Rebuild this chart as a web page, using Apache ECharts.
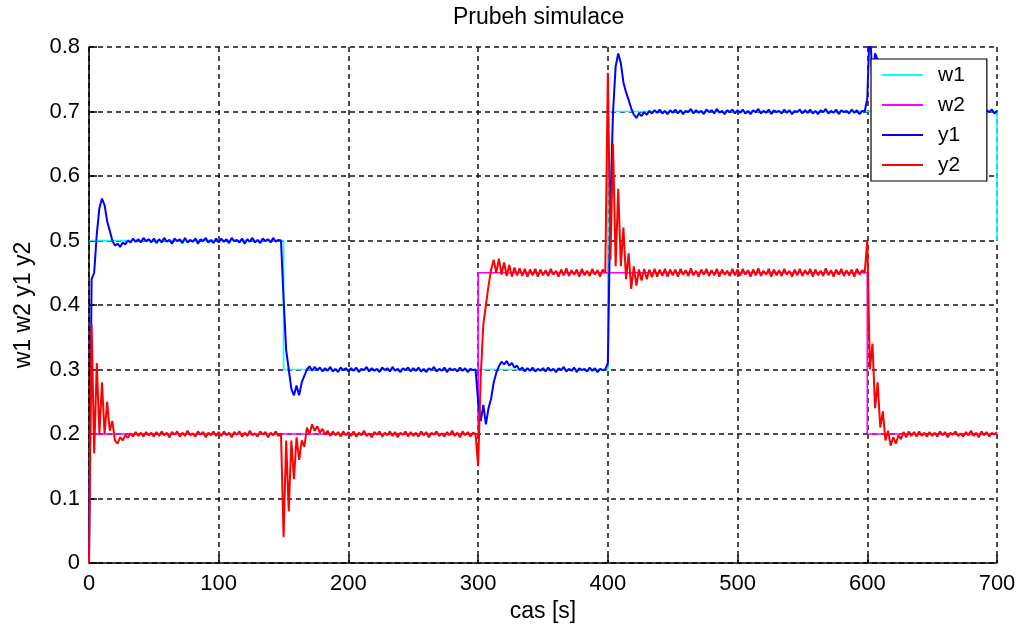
<!DOCTYPE html>
<html>
<head>
<meta charset="utf-8">
<script src="https://cdn.jsdelivr.net/npm/echarts@6/dist/echarts.min.js"></script>
<style>
html,body{margin:0;padding:0;background:#fff;}
#chart{width:1021px;height:630px;}
</style>
</head>
<body>
<div id="chart"></div>
<script>
// ---- data ----
const titleText = 'Prubeh simulace';
const xName = 'cas [s]';
const yName = 'w1 w2 y1 y2';
const seriesNames = ['w1', 'w2', 'y1', 'y2'];

// set-points: [time, level] break points (step changes)
const w1Steps = [[0, 0.5], [150, 0.3], [400, 0.7], [700, 0.5]];
const w2Steps = [[0, 0.2], [300, 0.45], [600, 0.2], [700, 0.2]];

// outputs sampled every 2 s from t = 0 to t = 700 (one row = 50 s)
const sampleStep = 2;
const y1Values = [
  0.00,0.44,0.45,0.51,0.55,0.565,0.555,0.53,0.515,0.50,0.492,0.495,0.49,0.497,0.494,0.50,0.497,0.503,0.498,0.502,0.497,0.504,0.499,0.502,0.497,
  0.503,0.496,0.502,0.497,0.504,0.498,0.501,0.495,0.503,0.499,0.502,0.496,0.504,0.497,0.501,0.498,0.503,0.495,0.502,0.499,0.504,0.497,0.501,0.496,0.503,
  0.497,0.503,0.498,0.502,0.496,0.504,0.499,0.501,0.497,0.503,0.495,0.502,0.498,0.504,0.497,0.501,0.496,0.503,0.499,0.502,0.497,0.504,0.498,0.501,0.500,
  0.41,0.33,0.30,0.27,0.26,0.275,0.26,0.28,0.29,0.30,0.305,0.298,0.304,0.299,0.303,0.297,0.302,0.298,0.304,0.297,0.301,0.296,0.303,0.299,0.302,
  0.297,0.302,0.298,0.303,0.296,0.301,0.299,0.304,0.297,0.302,0.298,0.301,0.296,0.303,0.299,0.302,0.297,0.304,0.298,0.301,0.296,0.302,0.299,0.303,0.297,
  0.302,0.298,0.303,0.297,0.301,0.296,0.302,0.299,0.304,0.297,0.301,0.298,0.303,0.296,0.302,0.299,0.301,0.297,0.303,0.298,0.302,0.296,0.301,0.299,0.300,
  0.25,0.22,0.245,0.215,0.24,0.255,0.28,0.295,0.305,0.312,0.308,0.313,0.306,0.31,0.303,0.306,0.299,0.303,0.297,0.302,0.298,0.303,0.297,0.301,0.298,
  0.302,0.297,0.303,0.298,0.301,0.296,0.302,0.299,0.304,0.297,0.301,0.298,0.303,0.296,0.302,0.299,0.301,0.297,0.303,0.298,0.302,0.296,0.301,0.299,0.300,
  0.31,0.56,0.70,0.77,0.79,0.775,0.745,0.73,0.718,0.705,0.695,0.69,0.697,0.693,0.699,0.695,0.701,0.697,0.702,0.698,0.703,0.697,0.701,0.696,0.702,
  0.698,0.703,0.697,0.702,0.696,0.701,0.699,0.704,0.697,0.702,0.698,0.701,0.696,0.703,0.699,0.702,0.697,0.704,0.698,0.701,0.696,0.702,0.699,0.703,0.697,
  0.702,0.698,0.703,0.697,0.701,0.696,0.702,0.699,0.704,0.697,0.701,0.698,0.703,0.696,0.702,0.699,0.701,0.697,0.703,0.698,0.702,0.696,0.701,0.699,0.703,
  0.697,0.702,0.698,0.703,0.697,0.701,0.696,0.702,0.699,0.704,0.697,0.701,0.698,0.703,0.696,0.702,0.699,0.701,0.697,0.703,0.698,0.702,0.696,0.701,0.700,
  0.72,0.84,0.74,0.79,0.78,0.76,0.75,0.74,0.73,0.72,0.71,0.705,0.70,0.697,0.702,0.698,0.703,0.697,0.701,0.696,0.702,0.699,0.704,0.697,0.701,
  0.698,0.703,0.697,0.702,0.696,0.701,0.699,0.704,0.697,0.702,0.698,0.701,0.696,0.703,0.699,0.702,0.697,0.704,0.698,0.701,0.696,0.702,0.699,0.703,0.697,
  0.701
];
const y2Values = [
  0.00,0.37,0.17,0.31,0.20,0.28,0.20,0.25,0.205,0.22,0.19,0.185,0.195,0.19,0.198,0.194,0.201,0.196,0.203,0.197,0.202,0.196,0.203,0.198,0.202,
  0.196,0.203,0.197,0.204,0.198,0.202,0.195,0.203,0.199,0.204,0.196,0.202,0.197,0.205,0.198,0.201,0.196,0.204,0.199,0.203,0.195,0.202,0.198,0.204,0.197,
  0.203,0.197,0.204,0.198,0.202,0.195,0.203,0.199,0.204,0.196,0.202,0.197,0.205,0.198,0.201,0.196,0.204,0.199,0.203,0.195,0.202,0.198,0.204,0.197,0.201,
  0.04,0.19,0.08,0.19,0.13,0.195,0.16,0.19,0.18,0.21,0.20,0.215,0.205,0.212,0.202,0.208,0.199,0.205,0.197,0.204,0.198,0.203,0.196,0.204,0.198,
  0.203,0.197,0.204,0.196,0.202,0.198,0.205,0.197,0.201,0.195,0.203,0.199,0.204,0.196,0.202,0.198,0.204,0.197,0.203,0.195,0.202,0.199,0.204,0.196,0.203,
  0.197,0.202,0.196,0.204,0.198,0.203,0.195,0.202,0.199,0.204,0.197,0.201,0.196,0.203,0.198,0.205,0.197,0.202,0.195,0.204,0.198,0.203,0.196,0.202,0.200,
  0.15,0.29,0.37,0.40,0.43,0.455,0.47,0.45,0.472,0.447,0.466,0.445,0.462,0.444,0.458,0.446,0.457,0.445,0.456,0.444,0.455,0.446,0.456,0.444,0.455,
  0.446,0.454,0.445,0.456,0.447,0.453,0.444,0.455,0.446,0.457,0.445,0.454,0.447,0.455,0.444,0.456,0.446,0.453,0.445,0.456,0.447,0.454,0.444,0.455,0.450,
  0.76,0.47,0.65,0.46,0.58,0.46,0.52,0.44,0.48,0.425,0.46,0.43,0.455,0.438,0.456,0.44,0.455,0.443,0.456,0.444,0.455,0.445,0.456,0.444,0.455,
  0.446,0.455,0.444,0.456,0.447,0.454,0.445,0.457,0.446,0.453,0.444,0.455,0.447,0.456,0.445,0.454,0.446,0.456,0.444,0.455,0.447,0.453,0.445,0.456,0.446,
  0.455,0.445,0.456,0.447,0.454,0.444,0.455,0.446,0.457,0.445,0.453,0.447,0.456,0.444,0.455,0.446,0.454,0.445,0.456,0.447,0.453,0.444,0.455,0.446,0.456,
  0.445,0.454,0.447,0.456,0.444,0.455,0.446,0.453,0.445,0.457,0.446,0.454,0.444,0.455,0.447,0.456,0.445,0.454,0.446,0.455,0.444,0.456,0.447,0.454,0.450,
  0.50,0.30,0.34,0.24,0.28,0.21,0.235,0.19,0.205,0.182,0.195,0.185,0.198,0.192,0.203,0.195,0.204,0.197,0.203,0.196,0.204,0.197,0.202,0.196,0.203,
  0.197,0.202,0.196,0.204,0.198,0.203,0.195,0.202,0.199,0.204,0.197,0.201,0.196,0.203,0.198,0.205,0.197,0.202,0.195,0.204,0.198,0.203,0.196,0.202,0.199,
  0.203
];

// ---- chart ----
const FONT = '"Liberation Sans", Arial, sans-serif';
const toPoints = vals => vals.map((v, i) => [i * sampleStep, v]);

const chart = echarts.init(document.getElementById('chart'), null, {renderer: 'canvas'});

const gridLine = {show: true, lineStyle: {color: '#111', width: 1.5, type: [5, 4]}};
const axisLineStyle = {show: true, onZero: false, lineStyle: {color: '#000', width: 1.5}};
const tickStyle = {show: true, inside: true, length: 8, lineStyle: {color: '#000', width: 1.5}};

chart.setOption({
  animation: false,
  backgroundColor: '#fff',
  textStyle: {fontFamily: FONT},
  title: {
    text: titleText,
    left: 448, top: 1,
    textStyle: {fontSize: 23, fontWeight: 'normal', color: '#000', fontFamily: FONT}
  },
  grid: {left: 89, right: 24, top: 47, bottom: 67, containLabel: false},
  legend: {
    data: seriesNames,
    orient: 'vertical',
    left: 871, top: 59,
    padding: [5, 22, 5, 11],
    itemGap: 8,
    icon: 'rect',
    itemWidth: 41,
    itemHeight: 2,
    backgroundColor: '#fff',
    borderColor: '#000',
    borderWidth: 1.2,
    borderRadius: 0,
    textStyle: {fontSize: 21, lineHeight: 22, height: 22, color: '#000', fontFamily: FONT, padding: [0, 0, 0, 10]}
  },
  xAxis: {
    type: 'value', min: 0, max: 700, interval: 100,
    name: xName, nameLocation: 'middle', nameGap: 35,
    nameTextStyle: {fontSize: 23, color: '#000', fontFamily: FONT},
    axisLine: axisLineStyle,
    axisTick: tickStyle,
    axisLabel: {fontSize: 22, color: '#000', margin: 10, fontFamily: FONT},
    splitLine: gridLine
  },
  yAxis: {
    type: 'value', min: 0, max: 0.8, interval: 0.1,
    name: yName, nameLocation: 'middle', nameGap: 54,
    nameTextStyle: {fontSize: 23, color: '#000', fontFamily: FONT},
    axisLine: axisLineStyle,
    axisTick: tickStyle,
    axisLabel: {fontSize: 22, color: '#000', margin: 9, fontFamily: FONT,
      formatter: v => (Math.abs(v) < 1e-9 ? '0' : v.toFixed(1))},
    splitLine: gridLine
  },
  series: [
    {name: 'w1', type: 'line', step: 'end', data: w1Steps, symbol: 'none', clip: true,
     lineStyle: {color: '#00ffff', width: 1.6}, itemStyle: {color: '#00ffff'}},
    {name: 'w2', type: 'line', step: 'end', data: w2Steps, symbol: 'none', clip: true,
     lineStyle: {color: '#ff00ff', width: 1.6}, itemStyle: {color: '#ff00ff'}},
    {name: 'y1', type: 'line', data: toPoints(y1Values), symbol: 'none', clip: true,
     lineStyle: {color: '#0000ff', width: 2}, itemStyle: {color: '#0000ff'}},
    {name: 'y2', type: 'line', data: toPoints(y2Values), symbol: 'none', clip: true,
     lineStyle: {color: '#ff0000', width: 2}, itemStyle: {color: '#ff0000'}}
  ]
});
</script>
</body>
</html>
